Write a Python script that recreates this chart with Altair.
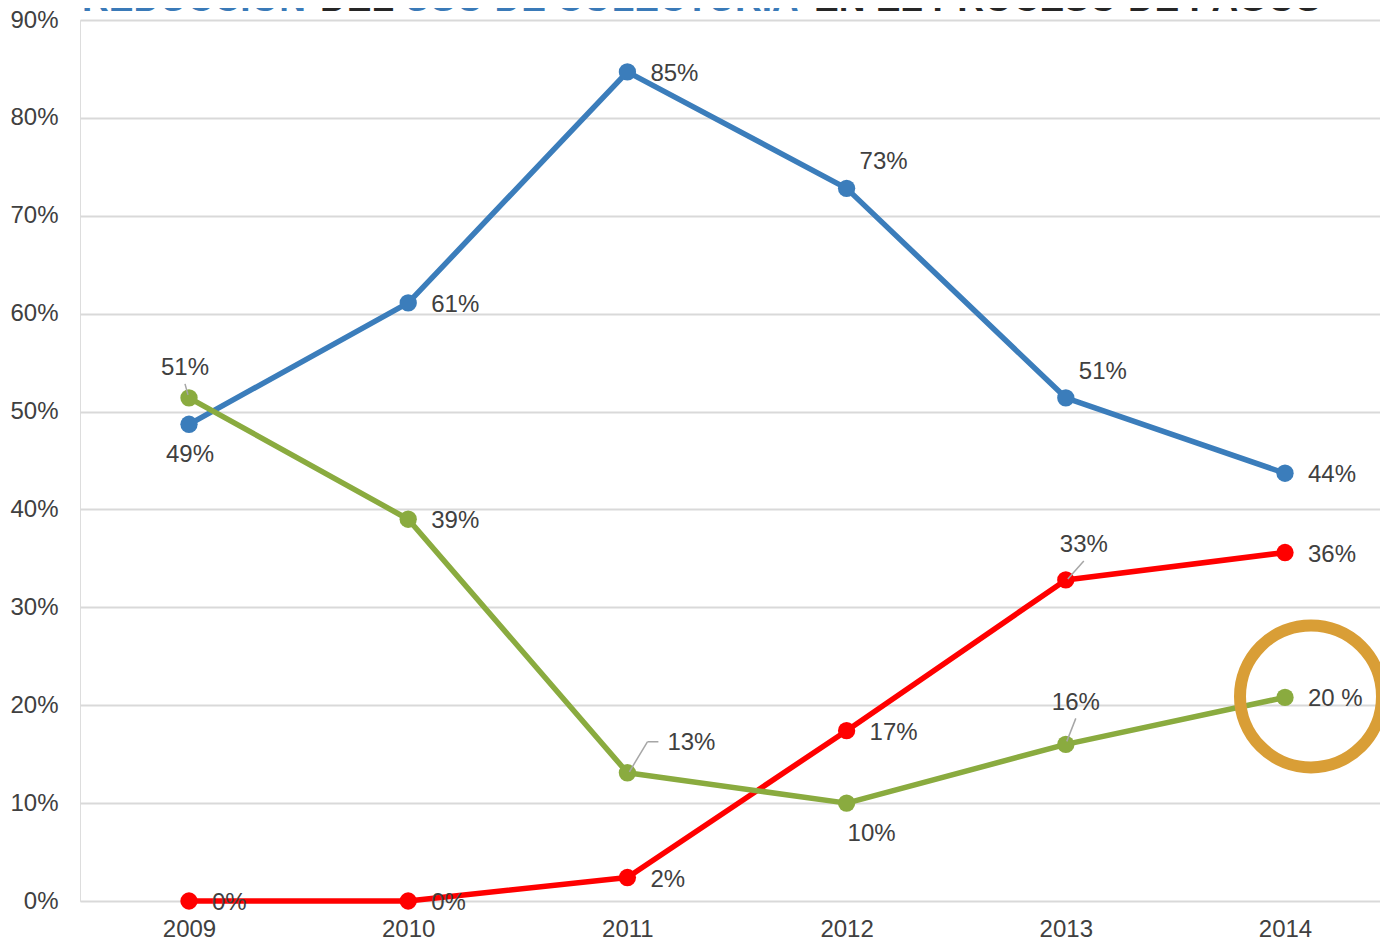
import altair as alt
import pandas as pd

# ---------------- data ----------------
years = [2009, 2010, 2011, 2012, 2013, 2014]

series_names = ["Serie azul", "Serie roja", "Serie verde"]
series_colors = ["#3b7dbb", "#ff0000", "#8aab3f"]

blue_vals = [0.487, 0.611, 0.847, 0.728, 0.514, 0.437]
red_vals = [0.0, 0.0, 0.024, 0.174, 0.328, 0.356]
green_vals = [0.514, 0.390, 0.131, 0.100, 0.160, 0.208]

blue_labels = ["49%", "61%", "85%", "73%", "51%", "44%"]
red_labels = ["0%", "0%", "2%", "17%", "33%", "36%"]
green_labels = ["51%", "39%", "13%", "10%", "16%", "20 %"]

blue_place = ["below", "right", "right", "above_right", "above_right", "right"]
red_place = ["right", "right", "right", "right", "lead_up_right", "right"]
green_place = ["lead_up_left", "right", "lead_right", "below_right", "lead_up", "right"]

highlight_series = "Serie verde"
highlight_year = 2014

title_parts = ["REDUCCIÓN", "DEL", "USO DE COLECTURÍA", "EN EL PROCESO DE PAGOS"]
title_colors = ["#3a7ab8", "#262626", "#3a7ab8", "#262626"]

y_ticks = [0.0, 0.1, 0.2, 0.3, 0.4, 0.5, 0.6, 0.7, 0.8, 0.9]

# ---------------- styling ----------------
FONT = "Liberation Sans"
TEXT_COLOR = "#404040"
FS = 24
W, H = 1308, 881

PLACE = {
    "right": dict(dx=23, dy=2, align="left"),
    "above_right": dict(dx=13, dy=-26, align="left"),
    "below": dict(dx=1, dy=31, align="center"),
    "below_right": dict(dx=25, dy=31, align="center"),
    "lead_up_left": dict(dx=-4, dy=-30, align="center"),
    "lead_up": dict(dx=10, dy=-41, align="center"),
    "lead_up_right": dict(dx=18, dy=-35, align="center"),
    "lead_right": dict(dx=40, dy=-30, align="left"),
}
LEADERS = {
    "lead_up_left": [(-4, -14, -1, -3)],
    "lead_up": [(1, -3, 10, -26)],
    "lead_up_right": [(2, -1, 18, -19)],
    "lead_right": [(2, -1, 20, -31), (20, -31, 31, -31)],
}

rows = []
for name, vals, labs, places in [
    (series_names[0], blue_vals, blue_labels, blue_place),
    (series_names[1], red_vals, red_labels, red_place),
    (series_names[2], green_vals, green_labels, green_place),
]:
    for yr, v, lb, pl in zip(years, vals, labs, places):
        rows.append(dict(series=name, year=yr, value=v, label=lb, place=pl))
df = pd.DataFrame(rows)

step = 219.2
x_first = 109.0
x_dom = [years[0] - x_first / step, years[0] + (W - x_first) / step]

x_scale = alt.Scale(domain=x_dom, nice=False, zero=False)
y_scale = alt.Scale(domain=[0, 0.9], nice=False)

x_enc = alt.X(
    "year:Q", scale=x_scale,
    axis=alt.Axis(
        values=years, format="d", grid=False, domain=False, ticks=False,
        labelPadding=16, labelFontSize=FS, labelColor=TEXT_COLOR,
        labelFont=FONT, title=None,
    ),
)
y_enc = alt.Y(
    "value:Q", scale=y_scale,
    axis=alt.Axis(
        values=y_ticks, format=".0%", grid=True, gridColor="#d9d9d9",
        gridWidth=2, domain=False, ticks=False, labelPadding=22,
        labelFontSize=FS, labelColor=TEXT_COLOR, labelFont=FONT, title=None,
    ),
)

base = alt.Chart(df).encode(x=x_enc, y=y_enc)

layers = []
for name, col in zip(series_names, series_colors):
    s = base.transform_filter(alt.datum.series == name)
    layers.append(s.mark_line(color=col, strokeWidth=5.5, strokeJoin="round"))
    layers.append(s.mark_circle(color=col, size=300, opacity=1))

# leader lines
for pl, segs in LEADERS.items():
    for (x1, y1, x2, y2) in segs:
        layers.append(
            base.transform_filter(alt.datum.place == pl)
            .mark_rule(color="#a6a6a6", strokeWidth=1.5,
                       xOffset=x1, yOffset=y1, x2Offset=x2, y2Offset=y2)
            .encode(x2=alt.X2("year:Q"), y2=alt.Y2("value:Q"))
        )

# data labels
for pl, st in PLACE.items():
    layers.append(
        base.transform_filter(alt.datum.place == pl)
        .mark_text(font=FONT, fontSize=FS, color=TEXT_COLOR, baseline="middle",
                   align=st["align"], dx=st["dx"], dy=st["dy"])
        .encode(text="label:N")
    )

# highlight ring
layers.append(
    base.transform_filter(
        (alt.datum.series == highlight_series) & (alt.datum.year == highlight_year)
    ).mark_point(shape="circle", filled=False, size=20164, strokeWidth=12,
                 color="#d99e36", opacity=1, xOffset=26, yOffset=-1)
)

# title (mostly cut off at top, as in the reference)
title_x = [2, 240, 324, 734]
for i, (txt, col) in enumerate(zip(title_parts, title_colors)):
    layers.append(
        alt.Chart(pd.DataFrame({"t": [txt]}))
        .mark_text(font=FONT, fontSize=37, fontWeight="bold", color=col,
                   align="left", baseline="alphabetic")
        .encode(text="t:N", x=alt.value(title_x[i]), y=alt.value(-9))
    )

chart = (
    alt.layer(*layers)
    .properties(
        width=W, height=H,
        autosize=alt.AutoSizeParams(type="none"),
        padding={"left": 72, "top": 12, "right": -8, "bottom": 40},
    )
    .configure_view(stroke=None)
    .configure(background="white")
)

chart.save("out.html", embed_options={"renderer": "svg", "actions": False})
